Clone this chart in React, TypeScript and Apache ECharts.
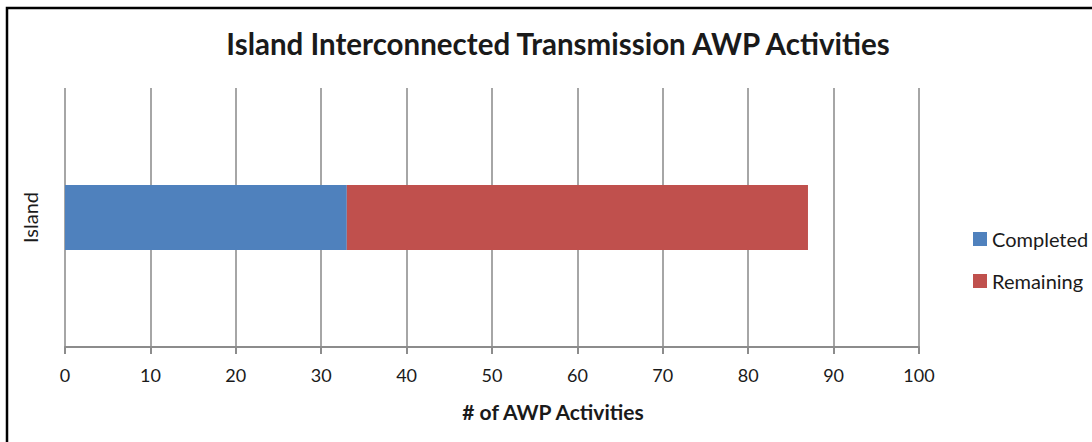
import React, { useEffect, useRef } from "react";
import * as echarts from "echarts";

const categories = ["Island"];
const completed = [33];
const remaining = [54];
const seriesNames = ["Completed", "Remaining"];
const titleText = "Island Interconnected Transmission AWP Activities";
const xAxisTitle = "# of AWP Activities";

export default function App() {
  const ref = useRef<HTMLDivElement>(null);
  useEffect(() => {
    const chart = echarts.init(ref.current!, null, { renderer: "svg" });
    const font = "Lato, 'Open Sans', sans-serif";
    chart.setOption({
      animation: false,
      backgroundColor: "#ffffff",
      textStyle: { fontFamily: font },
      graphic: [
        {
          type: "rect",
          shape: { x: 7, y: 8, width: 1200, height: 600 },
          style: { fill: "none", stroke: "#000", lineWidth: 2.5 },
          silent: true,
        },
        {
          type: "text",
          x: 558,
          y: 43,
          style: {
            text: titleText,
            fontSize: 29.5,
            fontWeight: "bold",
            fontFamily: font,
            fill: "#1a1a1a",
            align: "center",
            verticalAlign: "middle",
          },
        },
        {
          type: "text",
          x: 553,
          y: 411,
          style: {
            text: xAxisTitle,
            fontSize: 21,
            fontWeight: "bold",
            fontFamily: font,
            fill: "#1a1a1a",
            align: "center",
            verticalAlign: "middle",
          },
        },
      ],
      legend: {
        orient: "vertical",
        left: 973,
        top: 229,
        padding: 0,
        itemWidth: 14,
        itemHeight: 14,
        itemGap: 22,
        icon: "rect",
        data: seriesNames,
        textStyle: {
          fontSize: 20,
          lineHeight: 20,
          color: "#1a1a1a",
          fontFamily: font,
        },
      },
      grid: { left: 65, right: 173, top: 88, bottom: 95 },
      xAxis: {
        type: "value",
        min: 0,
        max: 100,
        interval: 10,
        axisLine: { show: true, lineStyle: { color: "#8c8c8c", width: 2 } },
        axisTick: { show: true, length: 7, lineStyle: { color: "#8c8c8c", width: 2 } },
        axisLabel: { fontSize: 18, color: "#1a1a1a", margin: 19, fontFamily: font },
        splitLine: { show: true, lineStyle: { color: "#a6a6a6", width: 2 } },
      },
      yAxis: {
        type: "category",
        data: categories,
        axisLine: { show: false },
        axisTick: { show: false },
        axisLabel: { rotate: 90, fontSize: 20, color: "#1a1a1a", margin: 25, fontFamily: font },
      },
      series: [
        {
          name: seriesNames[0],
          type: "bar",
          stack: "total",
          data: completed,
          barWidth: 65,
          itemStyle: { color: "#4F81BD" },
        },
        {
          name: seriesNames[1],
          type: "bar",
          stack: "total",
          data: remaining,
          barWidth: 65,
          itemStyle: { color: "#C0504D" },
        },
      ],
    });
    return () => chart.dispose();
  }, []);
  return (
    <div
      ref={ref}
      style={{ position: "fixed", left: 0, top: 0, width: 1092, height: 442 }}
    />
  );
}
